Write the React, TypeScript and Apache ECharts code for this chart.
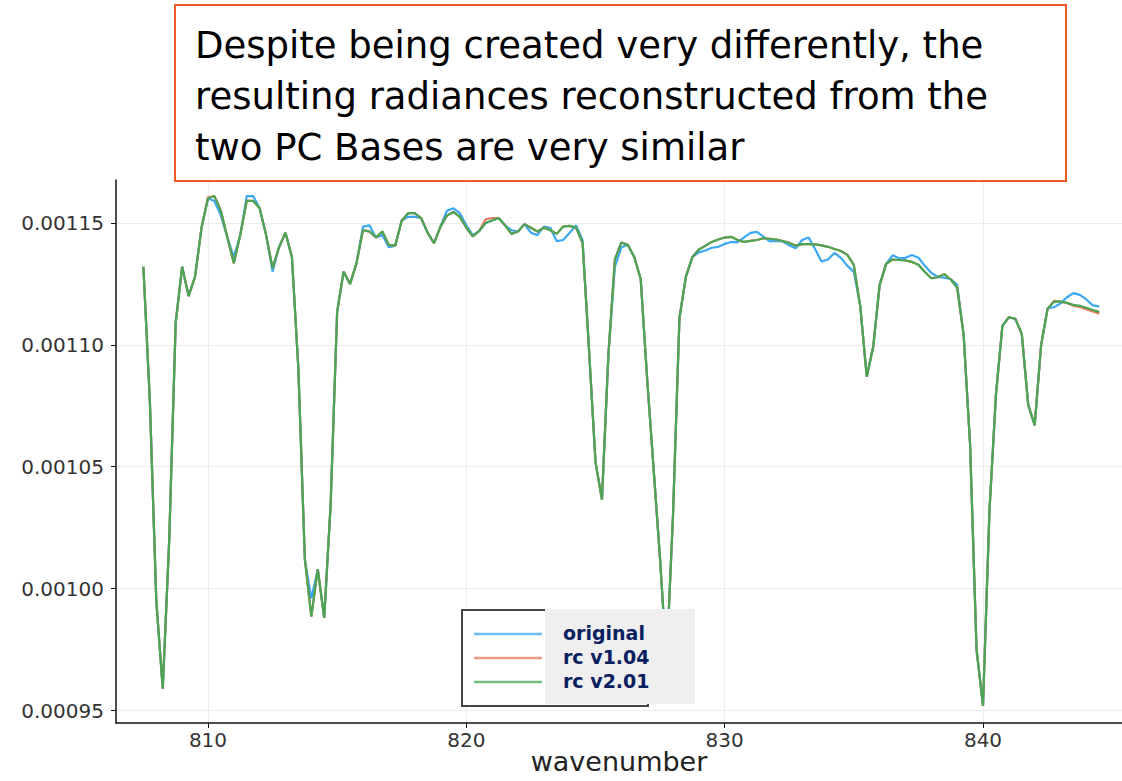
import React, { useEffect, useRef } from "react";
import * as echarts from "echarts";

const TITLE_LINES = [
  "Despite being created very differently, the",
  "resulting radiances reconstructed from the",
  "two PC Bases are very similar",
];

const SERIES_NAMES = ["original", "rc v1.04", "rc v2.01"];
const X_TICKS = [810, 820, 830, 840];
const Y_TICKS = [0.00095, 0.001, 0.00105, 0.0011, 0.00115];

const wavenumber = [
  807.5, 807.75, 808, 808.25, 808.5, 808.75, 809, 809.25, 809.5, 809.75,
  810, 810.25, 810.5, 810.75, 811, 811.25, 811.5, 811.75, 812, 812.25,
  812.5, 812.75, 813, 813.25, 813.5, 813.75, 814, 814.25, 814.5, 814.75,
  815, 815.25, 815.5, 815.75, 816, 816.25, 816.5, 816.75, 817, 817.25,
  817.5, 817.75, 818, 818.25, 818.5, 818.75, 819, 819.25, 819.5, 819.75,
  820, 820.25, 820.5, 820.75, 821, 821.25, 821.5, 821.75, 822, 822.25,
  822.5, 822.75, 823, 823.25, 823.5, 823.75, 824, 824.25, 824.5, 824.75,
  825, 825.25, 825.5, 825.75, 826, 826.25, 826.5, 826.75, 827, 827.25,
  827.5, 827.75, 828, 828.25, 828.5, 828.75, 829, 829.25, 829.5, 829.75,
  830, 830.25, 830.5, 830.75, 831, 831.25, 831.5, 831.75, 832, 832.25,
  832.5, 832.75, 833, 833.25, 833.5, 833.75, 834, 834.25, 834.5, 834.75,
  835, 835.25, 835.5, 835.75, 836, 836.25, 836.5, 836.75, 837, 837.25,
  837.5, 837.75, 838, 838.25, 838.5, 838.75, 839, 839.25, 839.5, 839.75,
  840, 840.25, 840.5, 840.75, 841, 841.25, 841.5, 841.75, 842, 842.25,
  842.5, 842.75, 843, 843.25, 843.5, 843.75, 844, 844.25, 844.5,
];

const original = [
  0.001132, 0.001077, 0.000995, 0.000959, 0.00102, 0.001109, 0.001132, 0.00112, 0.001128, 0.001148,
  0.00116, 0.001159, 0.001153, 0.001144, 0.001136, 0.001145, 0.001161, 0.001161, 0.001156, 0.001145,
  0.00113, 0.00114, 0.001146, 0.001136, 0.00109, 0.001012, 0.000996, 0.001008, 0.000988, 0.001035,
  0.0011135, 0.00113, 0.001125, 0.0011335, 0.0011485, 0.001149, 0.001144, 0.001145, 0.00114, 0.0011407,
  0.001151, 0.0011525, 0.0011525, 0.001152, 0.001146, 0.0011417, 0.0011485, 0.001155, 0.001156, 0.001154,
  0.001149, 0.001145, 0.0011467, 0.00115, 0.001151, 0.001152, 0.001149, 0.001147, 0.0011465, 0.0011495,
  0.001146, 0.001145, 0.0011485, 0.001148, 0.0011425, 0.001143, 0.001146, 0.001149, 0.001143, 0.001098,
  0.001052, 0.0010365, 0.001096, 0.001132, 0.00114, 0.001141, 0.001136, 0.001127, 0.001086, 0.001049,
  0.001012, 0.00097, 0.00103, 0.001111, 0.001128, 0.001136, 0.0011379, 0.0011387, 0.0011398, 0.0011402,
  0.0011414, 0.0011422, 0.0011421, 0.0011441, 0.0011459, 0.0011463, 0.0011444, 0.0011424, 0.0011426, 0.0011424,
  0.0011408, 0.0011396, 0.001143, 0.001144, 0.0011393, 0.0011342, 0.001135, 0.0011377, 0.0011357, 0.0011324,
  0.0011299, 0.0011157, 0.0010869, 0.0010992, 0.0011246, 0.0011332, 0.0011367, 0.0011355, 0.0011357, 0.0011368,
  0.0011357, 0.0011324, 0.0011295, 0.0011279, 0.0011275, 0.001127, 0.0011246, 0.0011041, 0.001059, 0.000975,
  0.000952, 0.001032, 0.0010795, 0.0011078, 0.0011113, 0.0011107, 0.0011045, 0.0010754, 0.001067, 0.0011,
  0.001115, 0.0011154, 0.001117, 0.0011195, 0.0011212, 0.0011205, 0.0011186, 0.0011162, 0.0011158,
];

const rcV104 = [
  0.001132, 0.001077, 0.000995, 0.000959, 0.00102, 0.001109, 0.001132, 0.00112, 0.001128, 0.001148,
  0.0011605, 0.001161, 0.001155, 0.001144, 0.0011335, 0.001145, 0.001159, 0.001159, 0.001156, 0.001145,
  0.0011315, 0.00114, 0.001146, 0.001136, 0.00109, 0.001012, 0.0009885, 0.001008, 0.000988, 0.001035,
  0.0011135, 0.00113, 0.001125, 0.0011335, 0.001147, 0.0011465, 0.001144, 0.0011465, 0.001141, 0.0011407,
  0.001151, 0.001154, 0.001154, 0.001152, 0.001146, 0.0011417, 0.0011485, 0.001153, 0.0011545, 0.0011525,
  0.001148, 0.0011445, 0.0011467, 0.0011515, 0.001152, 0.001152, 0.001149, 0.0011455, 0.0011465, 0.0011495,
  0.001148, 0.0011465, 0.001148, 0.001147, 0.0011455, 0.0011485, 0.0011488, 0.001148, 0.0011417, 0.001098,
  0.001052, 0.0010365, 0.001096, 0.001135, 0.001142, 0.001141, 0.001136, 0.001127, 0.001086, 0.001049,
  0.001012, 0.00097, 0.00103, 0.001111, 0.001128, 0.001136, 0.0011391, 0.0011406, 0.0011422, 0.0011432,
  0.001144, 0.0011443, 0.001143, 0.0011422, 0.0011426, 0.001143, 0.0011437, 0.0011435, 0.0011432, 0.0011426,
  0.0011418, 0.0011407, 0.0011413, 0.0011413, 0.0011412, 0.0011408, 0.0011402, 0.0011393, 0.0011385, 0.0011369,
  0.0011328, 0.0011157, 0.0010869, 0.0010992, 0.0011246, 0.0011332, 0.001135, 0.0011348, 0.0011346, 0.001134,
  0.0011328, 0.0011299, 0.0011273, 0.0011277, 0.001129, 0.0011268, 0.0011234, 0.0011041, 0.001059, 0.000975,
  0.000952, 0.001032, 0.0010795, 0.0011078, 0.0011113, 0.0011107, 0.0011045, 0.0010754, 0.001067, 0.0011,
  0.0011148, 0.001118, 0.0011177, 0.0011172, 0.001116, 0.0011155, 0.0011146, 0.0011137, 0.0011128,
];

const rcV201 = [
  0.001132, 0.001077, 0.000995, 0.000959, 0.00102, 0.001109, 0.001132, 0.00112, 0.001128, 0.001148,
  0.00116, 0.001161, 0.001155, 0.001144, 0.0011335, 0.001145, 0.001159, 0.001159, 0.001156, 0.001145,
  0.0011315, 0.00114, 0.001146, 0.001136, 0.00109, 0.001012, 0.0009885, 0.001008, 0.000988, 0.001035,
  0.0011135, 0.00113, 0.001125, 0.0011335, 0.001147, 0.0011465, 0.001144, 0.0011465, 0.001141, 0.0011407,
  0.001151, 0.001154, 0.001154, 0.001152, 0.001146, 0.0011417, 0.0011485, 0.001153, 0.0011545, 0.0011525,
  0.001148, 0.0011445, 0.0011467, 0.00115, 0.001151, 0.001152, 0.001149, 0.0011455, 0.0011465, 0.0011495,
  0.001148, 0.0011465, 0.001148, 0.001147, 0.0011455, 0.0011485, 0.0011488, 0.001148, 0.0011417, 0.001098,
  0.001052, 0.0010365, 0.001096, 0.001135, 0.001142, 0.001141, 0.001136, 0.001127, 0.001086, 0.001049,
  0.001012, 0.00097, 0.00103, 0.001111, 0.001128, 0.001136, 0.0011391, 0.0011406, 0.0011422, 0.0011432,
  0.001144, 0.0011443, 0.001143, 0.0011422, 0.0011426, 0.001143, 0.0011437, 0.0011435, 0.0011432, 0.0011426,
  0.0011418, 0.0011407, 0.0011413, 0.0011413, 0.0011412, 0.0011408, 0.0011402, 0.0011393, 0.0011385, 0.0011369,
  0.0011328, 0.0011157, 0.0010869, 0.0010992, 0.0011246, 0.0011332, 0.001135, 0.0011348, 0.0011346, 0.001134,
  0.0011328, 0.0011299, 0.0011273, 0.0011277, 0.001129, 0.0011268, 0.0011234, 0.0011041, 0.001059, 0.000975,
  0.000952, 0.001032, 0.0010795, 0.0011078, 0.0011113, 0.0011107, 0.0011045, 0.0010754, 0.001067, 0.0011,
  0.0011148, 0.0011177, 0.0011177, 0.0011172, 0.0011164, 0.001116, 0.0011152, 0.0011143, 0.0011135,
];

const COLORS = ["#3aa8f5", "#e5795a", "#4aa655"];
const FONT = "DejaVu Sans";

function pairs(ys: number[]) {
  return wavenumber.map((x, i) => [x, ys[i]]);
}

export default function App() {
  const ref = useRef<HTMLDivElement>(null);
  useEffect(() => {
    if (!ref.current) return;
    const chart = echarts.init(ref.current, undefined, { renderer: "svg" });
    const allSeries = [original, rcV104, rcV201];
    const legendY = [634, 658, 682];
    const graphic: any[] = [
      {
        type: "rect",
        z: 100,
        shape: { x: 175, y: 5, width: 891, height: 176 },
        style: { fill: "#ffffff", stroke: "#ee5b24", lineWidth: 2 },
      },
      ...TITLE_LINES.map((t, i) => ({
        type: "text",
        z: 101,
        x: 195,
        y: 45 + i * 51,
        style: {
          text: t,
          fill: "#000000",
          font: `37px '${FONT}'`,
          textVerticalAlign: "middle",
        },
      })),
      {
        type: "rect",
        z: 100,
        shape: { x: 462, y: 610, width: 186, height: 96 },
        style: { fill: "#ffffff", stroke: "#444444", lineWidth: 2 },
      },
      {
        type: "rect",
        z: 101,
        shape: { x: 545, y: 609, width: 150, height: 95 },
        style: { fill: "#efefef", stroke: null },
      },
      ...SERIES_NAMES.map((n, i) => ({
        type: "line",
        z: 102,
        shape: { x1: 474, y1: legendY[i], x2: 542, y2: legendY[i] },
        style: { stroke: COLORS[i], lineWidth: 2.5, opacity: 0.75 },
      })),
      ...SERIES_NAMES.map((n, i) => ({
        type: "text",
        z: 102,
        x: 563,
        y: legendY[i] - 1,
        style: {
          text: n,
          fill: "#082060",
          font: `bold 19px '${FONT}'`,
          textVerticalAlign: "middle",
        },
      })),
    ];

    chart.setOption({
      animation: false,
      backgroundColor: "#ffffff",
      grid: {
        left: 116,
        right: 0,
        top: 180,
        bottom: 58,
        containLabel: false,
        outerBoundsMode: "none",
      },
      xAxis: {
        type: "value",
        min: 806.44,
        max: 845.38,
        name: "wavenumber",
        nameLocation: "middle",
        nameGap: 24,
        nameMoveOverlap: false,
        nameTextStyle: { fontSize: 27, lineHeight: 28, color: "#222222", fontFamily: FONT },
        axisLine: { show: true, onZero: false, lineStyle: { color: "#111111", width: 1.5 } },
        axisTick: { show: true, customValues: X_TICKS, length: 5, lineStyle: { color: "#111111" } },
        axisLabel: {
          customValues: X_TICKS,
          fontSize: 20,
          color: "#333333",
          fontFamily: FONT,
          margin: 7,
        },
        splitLine: { show: true, lineStyle: { color: "#ececec", width: 1 } },
      },
      yAxis: {
        type: "value",
        min: 0.0009449,
        max: 0.0011676,
        axisLine: { show: true, lineStyle: { color: "#111111", width: 1.5 } },
        axisTick: { show: true, customValues: Y_TICKS, length: 5, lineStyle: { color: "#111111" } },
        axisLabel: {
          customValues: Y_TICKS,
          fontSize: 20,
          color: "#333333",
          fontFamily: FONT,
          margin: 12,
          formatter: (v: number) => v.toFixed(5),
        },
        splitLine: { show: true, lineStyle: { color: "#ececec", width: 1 } },
      },
      series: allSeries.map((ys, i) => ({
        name: SERIES_NAMES[i],
        type: "line",
        data: pairs(ys),
        showSymbol: false,
        symbol: "none",
        z: 2 + i,
        lineStyle: { color: COLORS[i], width: 2.2 },
      })),
      graphic,
    });
    return () => chart.dispose();
  }, []);
  return (
    <div
      ref={ref}
      style={{ position: "fixed", left: 0, top: 0, width: 1122, height: 781 }}
    />
  );
}
